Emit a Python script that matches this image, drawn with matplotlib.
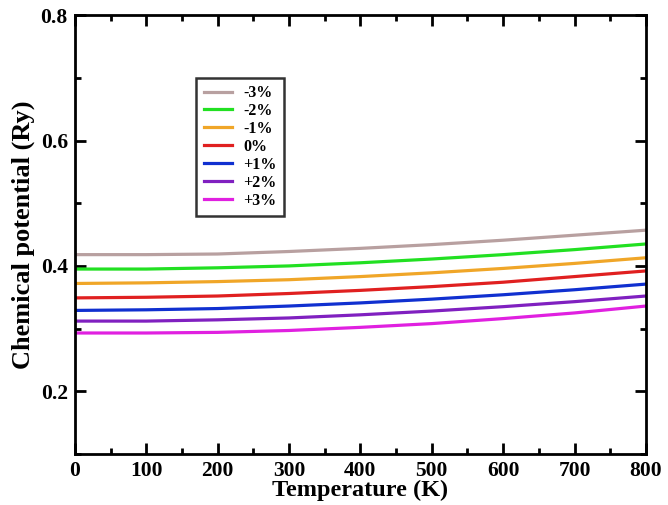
import matplotlib.pyplot as plt
from matplotlib.ticker import MultipleLocator

temps = [0, 100, 200, 300, 400, 500, 600, 700, 800]

strain_labels = ["-3%", "-2%", "-1%", "0%", "+1%", "+2%", "+3%"]
mu_m3 = [0.418, 0.418, 0.419, 0.423, 0.428, 0.434, 0.441, 0.449, 0.457]
mu_m2 = [0.395, 0.395, 0.397, 0.400, 0.405, 0.411, 0.418, 0.426, 0.435]
mu_m1 = [0.372, 0.373, 0.375, 0.378, 0.383, 0.389, 0.396, 0.404, 0.413]
mu_0 = [0.349, 0.350, 0.352, 0.356, 0.361, 0.367, 0.374, 0.383, 0.392]
mu_p1 = [0.329, 0.330, 0.332, 0.336, 0.341, 0.347, 0.354, 0.362, 0.371]
mu_p2 = [0.312, 0.312, 0.314, 0.317, 0.322, 0.328, 0.335, 0.343, 0.352]
mu_p3 = [0.293, 0.293, 0.294, 0.297, 0.302, 0.308, 0.316, 0.325, 0.336]

series = [mu_m3, mu_m2, mu_m1, mu_0, mu_p1, mu_p2, mu_p3]
colors = ["#b8a0a0", "#22e022", "#f0a628", "#e02020", "#1030d0", "#8020c0", "#e020e0"]

plt.rcParams['font.family'] = ['Liberation Serif', 'DejaVu Serif']
plt.rcParams['font.weight'] = 'bold'

fig = plt.figure(figsize=(6.68, 5.05), dpi=100)
ax = fig.add_axes([0.112, 0.101, 0.855, 0.869])

for lab, ys, c in zip(strain_labels, series, colors):
    ax.plot(temps, ys, color=c, linewidth=2.3, label=lab)

ax.set_xlim(0, 800)
ax.set_ylim(0.1, 0.8)
ax.xaxis.set_major_locator(MultipleLocator(100))
ax.xaxis.set_minor_locator(MultipleLocator(50))
ax.yaxis.set_major_locator(MultipleLocator(0.2))
ax.yaxis.set_minor_locator(MultipleLocator(0.1))
ax.set_yticks([0.2, 0.4, 0.6, 0.8])
ax.tick_params(which='both', direction='in', top=True, right=True, width=2)
ax.tick_params(which='major', length=8, labelsize=15.5, pad=5)
ax.tick_params(which='minor', length=4)
for sp in ax.spines.values():
    sp.set_linewidth(2)

ax.set_xlabel("Temperature (K)", fontsize=17.5, fontweight='bold', labelpad=-1)
ax.set_ylabel("Chemical potential (Ry)", fontsize=19, fontweight='bold', labelpad=4)

leg = ax.legend(loc='upper left', bbox_to_anchor=(0.213, 0.857), frameon=True,
                fancybox=False, fontsize=11.5, handlelength=1.8, handletextpad=0.7,
                labelspacing=0.12, borderpad=0.45, borderaxespad=0)
leg.get_frame().set_edgecolor('black')
leg.get_frame().set_linewidth(1.8)
for t in leg.get_texts():
    t.set_fontweight('bold')

fig.savefig("out.png", dpi=100)
